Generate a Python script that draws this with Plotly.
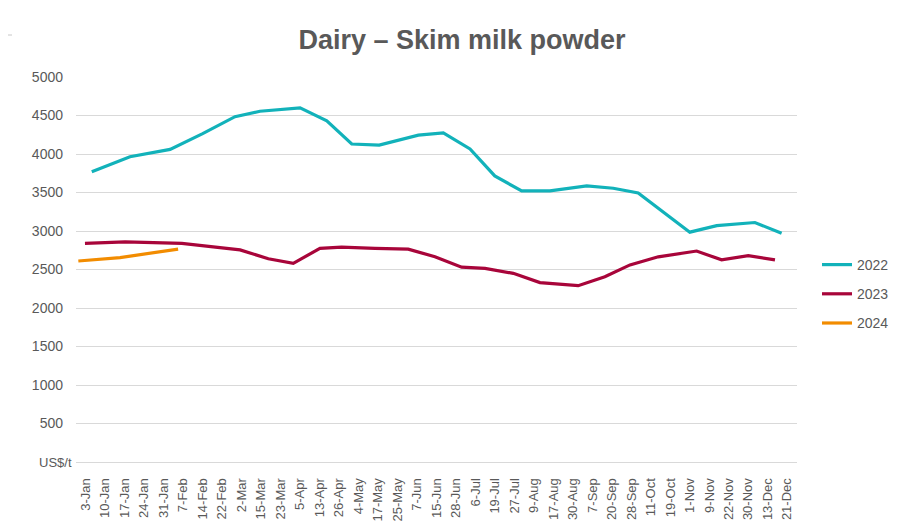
import plotly.graph_objects as go

# =========================
# DATA
# =========================
# category labels along the x axis (one per slot)
date_labels = [
    "3-Jan", "10-Jan", "17-Jan", "24-Jan", "31-Jan", "7-Feb", "14-Feb", "22-Feb",
    "2-Mar", "15-Mar", "23-Mar", "5-Apr", "13-Apr", "26-Apr", "4-May", "17-May",
    "25-May", "7-Jun", "15-Jun", "28-Jun", "6-Jul", "19-Jul", "27-Jul", "9-Aug",
    "17-Aug", "30-Aug", "7-Sep", "20-Sep", "28-Sep", "11-Oct", "19-Oct", "1-Nov",
    "9-Nov", "22-Nov", "30-Nov", "13-Dec", "21-Dec",
]

# position of each observation on the label scale (0 = 3-Jan ... 36 = 21-Dec)
pos_2022 = [0.31, 2.27, 4.33, 6.0, 7.66, 8.94, 11.0, 12.37, 13.65, 15.06, 17.07, 18.35,
            19.72, 20.99, 22.37, 23.82, 25.71, 27.07, 28.35, 31.0, 32.38, 34.34, 35.71]
usd_2022 = [3770, 3965, 4060, 4265, 4485, 4555, 4600, 4430, 4130, 4115, 4245, 4275,
            4065, 3715, 3520, 3520, 3585, 3555, 3495, 2985, 3070, 3110, 2970]

pos_2023 = [-0.04, 2.02, 4.93, 6.29, 7.92, 9.37, 10.65, 12.02, 13.13, 14.84, 16.55, 17.92,
            19.29, 20.49, 21.94, 23.31, 25.27, 26.64, 27.93, 29.38, 31.35, 32.63, 34.0, 35.37]
usd_2023 = [2840, 2860, 2840, 2800, 2755, 2640, 2580, 2775, 2790, 2775, 2765, 2665,
            2530, 2515, 2450, 2330, 2290, 2405, 2560, 2665, 2740, 2625, 2680, 2625]

pos_2024 = [-0.38, 1.76, 4.74]
usd_2024 = [2610, 2655, 2765]

y_ticks = [0, 500, 1000, 1500, 2000, 2500, 3000, 3500, 4000, 4500, 5000]

# =========================
# FIGURE
# =========================
# the page body adds an 8px margin, so the figure is laid out 8px smaller
W, H = 892, 521
L, R, T, B = 68, 103, 69, 67
PW, PH = W - L - R, H - T - B

grey_txt = "#595959"
grid = "#D9D9D9"

fig = go.Figure()
series = [
    ("2022", pos_2022, usd_2022, "#12B2BA"),
    ("2023", pos_2023, usd_2023, "#A8053A"),
    ("2024", pos_2024, usd_2024, "#F28C00"),
]
for name, xs, ys, col in series:
    fig.add_trace(go.Scatter(
        x=xs, y=ys, name=name, mode="lines", legendgroup=name,
        line=dict(color=col, width=3.2),
    ))

fig.update_layout(
    width=W, height=H,
    paper_bgcolor="white", plot_bgcolor="white",
    font=dict(family="Liberation Sans, Arial, sans-serif", color=grey_txt, size=14),
    margin=dict(l=L, r=R, t=T, b=B, autoexpand=False),
    title=dict(
        text="<b>Dairy – Skim milk powder</b>",
        x=454 / W, xanchor="center", y=1 - 32 / H, yanchor="middle",
        font=dict(size=27, color=grey_txt),
    ),
    legend=dict(
        x=(809 - L) / PW, xanchor="left", y=(T + PH - 241) / PH, yanchor="top",
        font=dict(size=14, color=grey_txt), tracegroupgap=8,
        bgcolor="rgba(0,0,0,0)",
    ),
    showlegend=True,
)

fig.update_xaxes(
    range=[-0.5, 36.5],
    tickmode="array", tickvals=list(range(len(date_labels))), ticktext=date_labels,
    tickangle=-90, tickfont=dict(size=13, color=grey_txt),
    showgrid=False, zeroline=False,
    showline=True, linecolor=grid, linewidth=1,
    ticks="", ticklabelstandoff=10,
)
fig.update_yaxes(
    range=[0, 5000],
    tickmode="array", tickvals=y_ticks,
    ticktext=["" if v == 0 else str(v) for v in y_ticks],
    tickfont=dict(size=14, color=grey_txt),
    showgrid=True, gridcolor=grid, gridwidth=1, zeroline=False,
    showline=False, ticks="", ticklabelstandoff=12,
)

# unit label where the 0 tick would be
fig.add_annotation(
    text="US$/t", xref="paper", yref="y", x=-2 / PW, y=0,
    xanchor="right", yanchor="middle", showarrow=False,
    font=dict(size=13, color=grey_txt),
)

# spreadsheet cell line peeking in at the top-left corner
fig.add_shape(type="line", xref="paper", yref="paper",
              x0=-L / PW, x1=(4 - L) / PW,
              y0=(T + PH - 27) / PH, y1=(T + PH - 27) / PH,
              line=dict(color="#C8C8C8", width=1))

fig.write_html("out.html")
